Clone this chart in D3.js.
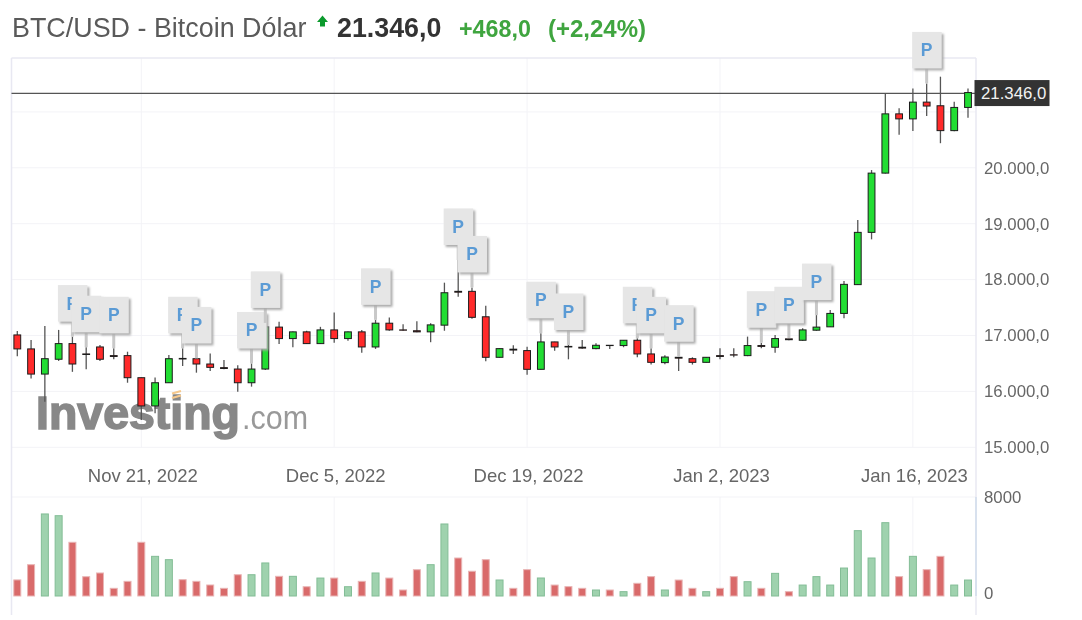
<!DOCTYPE html>
<html>
<head>
<meta charset="UTF-8">
<title>BTC/USD - Bitcoin Dólar</title>
<script src="https://cdn.jsdelivr.net/npm/d3@7/dist/d3.min.js"></script>
<style>
body { margin:0; background:#fff; font-family:"Liberation Sans", Arial, sans-serif; }
svg { display:block; filter:blur(0.45px); }
.grid { stroke:#f3f3f7; stroke-width:1; }
.frame { stroke:#e8e8f2; stroke-width:1.5; }
.axis text { font-family:"Liberation Sans", Arial, sans-serif; font-size:16.8px; fill:#666; }
.axis.dates text { font-size:18.5px; }
.axis line, .axis path { display:none; }
.wick { stroke:#555; stroke-width:1.3; }
.body { stroke:#1c1c1c; stroke-width:1; }
</style>
</head>
<body>
<svg width="1082" height="620"></svg>
<script>
const firstDay = new Date(Date.UTC(2022, 10, 12));
const lastDay = new Date(Date.UTC(2023, 0, 20));
const opens = [17010,16760,16310,16575,16855,16670,16795,16640,16640,16245,
  15740,16155,16590,16585,16490,16425,16400,16155,16400,17150,
  16945,17065,16855,17100,16945,17065,16795,17220,17100,17085,
  17065,17185,17790,17790,17335,16610,16755,16730,16395,16885,
  16805,16790,16765,16825,16820,16915,16670,16515,16610,16585,
  16520,16640,16655,16640,16820,16790,16940,16915,17095,17155,
  17395,17910,18845,19905,20965,20875,21175,21110,20665,21080];
const closes = [16760,16310,16585,16855,16490,16660,16575,16625,16245,15740,
  16155,16585,16580,16490,16430,16410,16155,16400,17155,16945,
  17065,16855,17100,16945,17065,16795,17220,17100,17095,17065,
  17190,17765,17775,17325,16610,16765,16740,16395,16885,16795,
  16795,16775,16825,16820,16915,16670,16520,16615,16595,16520,
  16610,16625,16650,16820,16805,16945,16925,17100,17150,17395,
  17915,18845,19905,20965,20875,21175,21105,20665,21080,21346];
const highs = [17080,16920,17170,17100,16980,16790,16830,16771,16710,16250,
  16250,16650,16771,16590,16680,16562,16470,16500,17225,17245,
  17070,17085,17155,17410,17070,17100,17280,17320,17200,17254,
  17220,17945,18351,17860,17530,16770,16825,16800,17040,16890,
  16830,16919,16860,16830,16920,16950,16770,16645,16621,16610,
  16615,16771,16771,16980,16871,17010,16950,17130,17365,17455,
  17975,19065,19960,21340,21065,21420,21510,21630,21180,21420];
const lows = [16630,16230,15815,16545,16350,16395,16545,16574,16155,15490,
  15610,16150,16454,16335,16365,16395,15995,16085,16385,16850,
  16790,16850,16850,16870,16905,16690,16760,17085,17086,17060,
  16880,17085,17694,17300,16540,16605,16669,16300,16390,16725,
  16574,16764,16755,16758,16790,16610,16480,16485,16365,16480,
  16515,16574,16610,16630,16771,16690,16915,16905,17085,17150,
  17310,17905,18720,19900,20590,20660,20925,20440,20655,20895];
const volumes = [1300,2530,6630,6490,4340,1560,1860,620,1185,4340,
  3205,2935,1320,1185,890,620,1720,1720,2670,1590,
  1590,750,1450,1450,750,1185,1860,1450,485,2125,
  2530,5820,3070,2000,2935,1293,620,2130,1455,885,
  755,620,485,485,350,1025,1565,485,1290,620,
  350,620,1565,1155,620,1830,350,885,1565,885,
  2260,5280,3070,5925,1565,3205,2130,3205,885,1290];
const flagDays = [4,5,7,12,13,17,18,26,32,33,38,40,45,46,48,54,56,58,66];
const priceTicks = [15000,16000,17000,18000,19000,20000,21000];
const priceLabels = [15000,16000,17000,18000,19000,20000];
const volumeTicks = [0,8000];
const dateTicks = [new Date(Date.UTC(2022,10,21)), new Date(Date.UTC(2022,11,5)), new Date(Date.UTC(2022,11,19)),
  new Date(Date.UTC(2023,0,2)), new Date(Date.UTC(2023,0,16))];
const lastPrice = 21346;

const dates = d3.utcDay.range(firstDay, d3.utcDay.offset(lastDay, 1));
const candles = dates.map((d, i) => ({ date:d, o:opens[i], c:closes[i], h:highs[i], l:lows[i], v:volumes[i] }));

const locale = d3.formatLocale({ decimal:",", thousands:".", grouping:[3], currency:["",""] });
const fmtPrice = locale.format(",.1f");

const svg = d3.select('svg');
const x = d3.scaleUtc().domain([firstDay, lastDay]).range([17.3, 968]);
const y = d3.scaleLinear().domain([15000, 21000]).range([447.3, 111.9]);
const yVol = d3.scaleLinear().domain([0, 8000]).range([596, 497]);
const frameL = 11.5, frameR = 976, frameT = 58, frameB = 615;

// grid
svg.append('g').selectAll('line').data(priceTicks).enter().append('line')
  .attr('class','grid').attr('x1',frameL).attr('x2',frameR).attr('y1',d=>y(d)).attr('y2',d=>y(d));
svg.append('line').attr('class','grid').attr('x1',frameL).attr('x2',frameR).attr('y1',yVol(8000)).attr('y2',yVol(8000));
svg.append('g').selectAll('line').data(dateTicks).enter().append('line')
  .attr('class','grid').attr('x1',d=>x(d)).attr('x2',d=>x(d)).attr('y1',frameT).attr('y2',y(15000));
svg.append('g').selectAll('line').data(dateTicks).enter().append('line')
  .attr('class','grid').attr('x1',d=>x(d)).attr('x2',d=>x(d)).attr('y1',yVol(8000)).attr('y2',yVol(0));

// frame
svg.append('line').attr('class','frame').attr('x1',frameL).attr('x2',frameR).attr('y1',frameT).attr('y2',frameT);
svg.append('line').attr('class','frame').attr('x1',frameL).attr('x2',frameL).attr('y1',frameT).attr('y2',frameB);
svg.append('line').attr('class','frame').attr('x1',frameR).attr('x2',frameR).attr('y1',frameT).attr('y2',frameB);
svg.append('line').attr('x1',frameR).attr('x2',frameR).attr('y1',yVol(8000)).attr('y2',yVol(0)).attr('stroke','#c9d8ea').attr('stroke-width',1.2);

// title
const title = svg.append('g').attr('font-family','"Liberation Sans", Arial, sans-serif');
title.append('text').attr('x',12).attr('y',37).attr('font-size',26.9).attr('fill','#5a5a5a').text('BTC/USD - Bitcoin Dólar');
title.append('path').attr('d','M317 22 L322.5 15.5 L328 22 L325 22 L325 26.5 L320 26.5 L320 22 Z').attr('fill','#0b9a2d');
title.append('text').attr('x',337).attr('y',37).attr('font-size',26.8).attr('font-weight','bold').attr('fill','#333').text(fmtPrice(lastPrice));
title.append('text').attr('x',459).attr('y',37).attr('font-size',23.3).attr('font-weight','bold').attr('fill','#3fa53f').text('+468,0');
title.append('text').attr('x',548).attr('y',37).attr('font-size',24).attr('font-weight','bold').attr('fill','#3fa53f').text('(+2,24%)');

// watermark
const mark = svg.append('g').attr('font-family','"Liberation Sans", Arial, sans-serif');
mark.append('text').attr('x',36).attr('y',428.5).attr('font-size',46).attr('font-weight','bold')
  .attr('textLength',204).attr('lengthAdjust','spacingAndGlyphs')
  .attr('fill','#888').attr('stroke','#888').attr('stroke-width',1.6).text('Investing');
mark.append('text').attr('x',242).attr('y',428.5).attr('font-size',33)
  .attr('textLength',66).attr('lengthAdjust','spacingAndGlyphs').attr('fill','#999').text('.com');
mark.append('path').attr('d','M172 393.5 L181 391 M172 398 L181 395.5').attr('stroke','#f6c88c').attr('stroke-width',2.2);

// axes
svg.append('g').attr('class','axis').attr('transform',`translate(${frameR+8},0)`)
  .call(d3.axisRight(y).tickValues(priceLabels).tickFormat(fmtPrice).tickSize(0).tickPadding(0));
svg.append('g').attr('class','axis').attr('transform','translate(984,0)')
  .call(d3.axisRight(yVol).tickValues(volumeTicks).tickFormat(d3.format('d')).tickSize(0).tickPadding(0))
  .selectAll('.tick').filter(d=>d===0).select('text').attr('y',-3);
svg.append('g').attr('class','axis dates').attr('transform','translate(1,469)')
  .call(d3.axisBottom(x).tickValues(dateTicks).tickFormat(d3.utcFormat('%b %-d, %Y')).tickSize(0).tickPadding(0));

// volume
const volW = 7;
svg.append('g').selectAll('rect').data(candles).enter().append('rect')
  .attr('x',d=>x(d.date)-volW/2).attr('width',volW)
  .attr('y',d=>yVol(d.v)).attr('height',d=>yVol(0)-yVol(d.v))
  .attr('fill',d=>d.c>=d.o?'#9fd2ae':'#d96a6a')
  .attr('stroke',d=>d.c>=d.o?'#83bd96':'#e9b5b5').attr('stroke-width',1);

// last price line
svg.append('line').attr('x1',frameL).attr('x2',frameR).attr('y1',y(lastPrice)+0.8).attr('y2',y(lastPrice)+0.8)
  .attr('stroke','#555').attr('stroke-width',1.2);

// candles
const bodyW = 6.8;
const candle = svg.append('g').selectAll('g').data(candles).enter().append('g');
candle.append('line').attr('class','wick')
  .attr('x1',d=>x(d.date)).attr('x2',d=>x(d.date)).attr('y1',d=>y(d.h)).attr('y2',d=>y(d.l));
candle.append('rect').attr('class','body')
  .attr('x',d=>x(d.date)-bodyW/2).attr('width',bodyW)
  .attr('y',d=>y(Math.max(d.o,d.c))).attr('height',d=>Math.abs(y(d.o)-y(d.c)))
  .attr('fill',d=>d.c>=d.o?'#22dd33':'#ff2a2a');

// P flags sit a fixed distance above the candle high
const defs = svg.append('defs');
defs.append('filter').attr('id','flagShadow').attr('x','-20%').attr('y','-20%').attr('width','150%').attr('height','150%')
  .append('feDropShadow').attr('dx',2).attr('dy',2).attr('stdDeviation',0.8).attr('flood-color','#aaa');
const flag = svg.append('g').selectAll('g').data(flagDays).enter().append('g')
  .attr('transform',d=>`translate(${x(dates[d])},${y(highs[d])})`);
flag.append('line').attr('y1',0).attr('y2',-16).attr('stroke','#c8c8c8').attr('stroke-width',3);
flag.append('rect').attr('x',-14.5).attr('y',-51.5).attr('width',29.5).attr('height',36.5)
  .attr('fill','#e6e6e6').attr('filter','url(#flagShadow)');
flag.append('text').attr('text-anchor','middle').attr('y',-27).attr('font-size',17.5).attr('font-weight','bold')
  .attr('font-family','"Liberation Sans", Arial, sans-serif').attr('fill','#5b9bd5').text('P');

// last price tag
const tag = svg.append('g');
tag.append('rect').attr('x',974.5).attr('y',y(lastPrice)-12.5).attr('width',75).attr('height',26).attr('fill','#333');
tag.append('text').attr('x',981).attr('y',y(lastPrice)+6.5).attr('font-size',16.8)
  .attr('font-family','"Liberation Sans", Arial, sans-serif').attr('fill','#f2f2f2').text(fmtPrice(lastPrice));
</script>
</body>
</html>
